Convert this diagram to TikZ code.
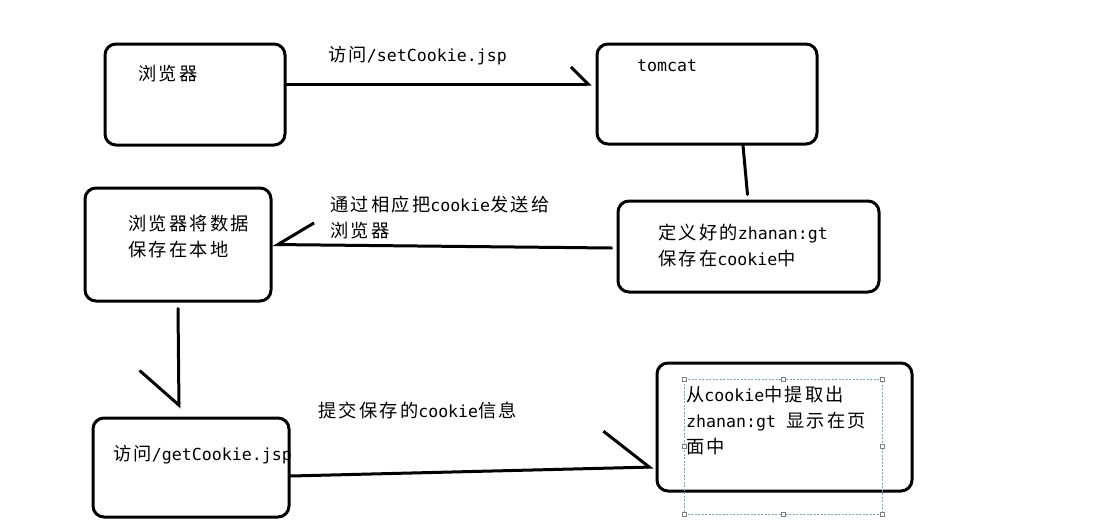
\documentclass[tikz,border=0pt]{standalone}
\usepackage{fontspec}
\setmainfont{DejaVu Sans Mono}
\newfontfamily\cjk[Scale=1.1,LetterSpace=12]{Noto Sans CJK SC}
\newcommand{\zh}[1]{{\cjk #1}}
\usetikzlibrary{arrows.meta}
\definecolor{selblue}{RGB}{110,165,215}

\begin{document}
\begin{tikzpicture}[x=1pt,y=-1pt,
    box/.style={draw, line width=3pt, rounded corners=11pt, inner sep=0pt},
    lbl/.style={anchor=west, inner sep=0pt, align=left, font=\fontsize{16.6pt}{26pt}\selectfont},
    conn/.style={line width=3pt, line cap=round},
    sel/.style={draw=selblue, thin, dash pattern=on 2pt off 1.5pt, inner sep=0pt},
    handle/.style={draw=gray, fill=white, thin, inner sep=0pt, minimum size=4pt}
    ]
%cadre
\useasboundingbox (0,0) rectangle (1108,530);

    \node[box,minimum width=180pt,minimum height=101pt] (brow)  at (195,94.5)  {};
    \node[box,minimum width=220pt,minimum height=100pt] (tomcat) at (707,94)   {};
    \node[box,minimum width=261pt,minimum height=91pt]  (def)   at (748.5,246.5) {};
    \node[box,minimum width=186pt,minimum height=113pt] (save)  at (178,244.5) {};
    \node[box,minimum width=196pt,minimum height=99pt]  (getc)  at (191,467.5) {};
    \node[box,minimum width=255pt,minimum height=128pt] (show)  at (784.5,427) {};

    \node[lbl] (tbrow) at (138,74)    {\zh{浏览器}};
    \node[lbl] (lset)  at (328,56)    {\zh{访问}/setCookie.jsp};
    \node[lbl] (ttom)  at (637,66)    {tomcat};
    \node[lbl] (tdef)  at (658,245.5) {\zh{定义好的}zhanan:gt\\\zh{保存在}cookie\zh{中}};
    \node[lbl] (lsend) at (330,217.5) {\zh{通过相应把}cookie\zh{发送给}\\\zh{浏览器}};
    \node[lbl] (tsave) at (128,236.5) {\zh{浏览器将数据}\\\zh{保存在本地}};
    \node[lbl] (lget)  at (318,410)   {\zh{提交保存的}cookie\zh{信息}};
    \node[lbl] (tget)  at (113,455)   {\zh{访问}/getCookie.jsp};
    \node[lbl] (tshow) at (686,421)   {\zh{从}cookie\zh{中提取出}\\zhanan:gt \zh{显示在页}\\\zh{面中}};

    \draw[conn,-{Straight Barb[harpoon,length=17pt,width=34pt]}] ([yshift=10.5pt]brow.east) -- ([xshift=-4pt,yshift=10pt]tomcat.west);
    \draw[conn] ([xshift=36pt]tomcat.south) -- ([xshift=-1pt,yshift=5pt]def.north);
    \draw[conn,-{Straight Barb[harpoon,swap,length=36pt,width=44pt]}] ([xshift=-5pt,yshift=-1.5pt]def.west) -- (save.east);
    \draw[conn,-{Straight Barb[harpoon,swap,length=35pt,width=78pt]}] ([yshift=-6pt]save.south) -- ([xshift=-12pt,yshift=8pt]getc.north);
    \draw[conn,-{Straight Barb[harpoon,length=45pt,width=74pt]}] ([yshift=-8.5pt]getc.east) -- ([xshift=-2pt,yshift=-40pt]show.west);

    %selection du texte
    \node[sel,minimum width=198pt,minimum height=135pt] (selbox) at (783,446.5) {};
    \foreach \a in {north west,north,north east,west,east,south west,south,south east}
        \node[handle] at (selbox.\a) {};
\end{tikzpicture}
\end{document}
